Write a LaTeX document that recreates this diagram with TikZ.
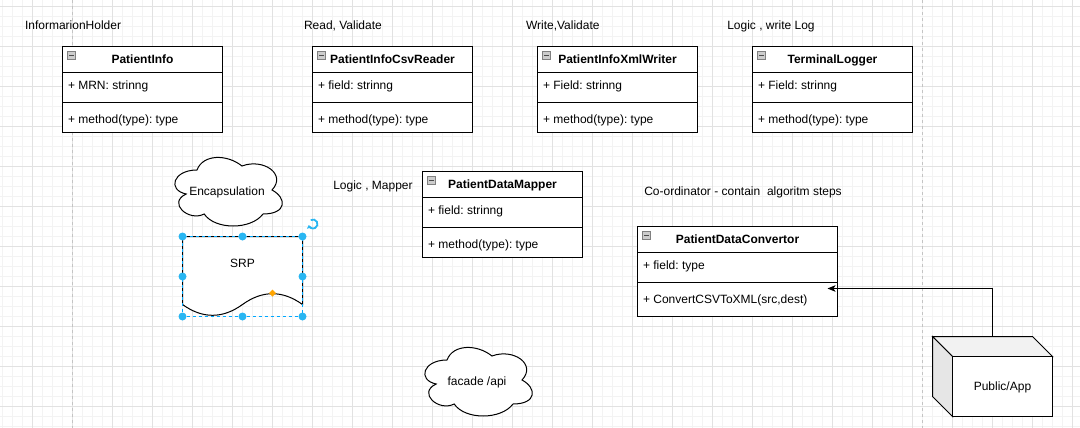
\documentclass[tikz,border=0pt]{standalone}
\usepackage{fontspec}
\setmainfont{Liberation Sans}
\usetikzlibrary{arrows.meta}
\frenchspacing
\definecolor{gmajor}{HTML}{E2E2E2}
\definecolor{gminor}{HTML}{F3F3F3}
\definecolor{pbreak}{HTML}{C4C4C4}
\definecolor{hblue}{HTML}{29B6F2}
\definecolor{selblue}{HTML}{00A8FF}
\definecolor{horange}{HTML}{FFA500}
\definecolor{topface}{HTML}{F2F2F2}
\definecolor{sideface}{HTML}{E6E6E6}
\definecolor{iconfill}{HTML}{CDCDCD}
\definecolor{icondraw}{HTML}{808080}
\tikzset{
  minorgrid/.style={draw=gminor, line width=1pt},
  majorgrid/.style={draw=gmajor, line width=1pt},
  pagebreak/.style={draw=pbreak, line width=1pt, dash pattern=on 3pt off 3pt},
  shapeline/.style={draw=black, line width=1pt, fill=white},
  boundbox/.style={rectangle, inner sep=0pt, outer sep=0pt, anchor=north west},
  classbox/.style={boundbox, draw=black, line width=1pt, fill=white},
  sepline/.style={draw=black, line width=1pt},
  icon/.style={draw=icondraw, fill=iconfill, line width=0.8pt},
  iconminus/.style={draw=black!70, line width=1pt},
  txt/.style={inner sep=0pt, outer sep=0pt, font=\fontsize{12}{14}\selectfont\frenchspacing},
  ttl/.style={inner sep=0pt, outer sep=0pt, font=\fontsize{12}{14}\selectfont\bfseries\frenchspacing},
  selection/.style={draw=selblue, line width=1pt, dash pattern=on 3pt off 3pt},
  handle/.style={fill=hblue},
  edge/.style={draw=black, line width=1pt, -{Stealth[length=8pt,width=6.5pt,inset=2pt]}},
}
\newcommand{\umlclass}[8]{%
  \node[classbox, minimum width=#4pt, minimum height=#5pt] (#1) at (#2,#3) {};
  \draw[sepline] ([yshift=-26pt]#1.north west) -- ([yshift=-26pt]#1.north east);
  \draw[sepline] ([yshift=-56pt]#1.north west) -- ([yshift=-56pt]#1.north east);
  \filldraw[icon] ([xshift=5pt,yshift=-5pt]#1.north west) rectangle ++(8pt,-8pt);
  \draw[iconminus] ([xshift=6.5pt,yshift=-9pt]#1.north west) -- ++(5pt,0pt);
  \node[ttl, anchor=base] (#1-title) at ([yshift=-17.3pt]#1.north) {#6};
  \node[txt, anchor=base west] (#1-field) at ([xshift=5.5pt,yshift=-43.3pt]#1.north west) {#7};
  \node[txt, anchor=base west] (#1-method) at ([xshift=5.5pt,yshift=-76.8pt]#1.north west) {#8};
}
\newcommand{\drawcloud}[2]{%
  \begin{scope}[shift={(#1,#2)}]
    \draw[shapeline] (30,20) .. controls (6,20) and (0,40) .. (19.2,44)
      .. controls (0,52.8) and (21.6,72) .. (37.2,64)
      .. controls (48,80) and (84,80) .. (96,64)
      .. controls (120,64) and (120,48) .. (105,40)
      .. controls (120,24) and (96,8) .. (75,16)
      .. controls (60,4) and (36,4) .. (30,20) -- cycle;
  \end{scope}
}
\begin{document}
\begin{tikzpicture}[x=1pt,y=-1pt]
\useasboundingbox (0,0) rectangle (1080,428);
\fill[white] (0,0) rectangle (1080,428);
% grid
\foreach \x in {2.5,12.5,...,1080} \draw[minorgrid] (\x,0) -- (\x,428);
\foreach \y in {6.5,16.5,...,428} \draw[minorgrid] (0,\y) -- (1080,\y);
\foreach \x in {32.5,72.5,...,1080} \draw[majorgrid] (\x,0) -- (\x,428);
\foreach \y in {6.5,46.5,...,428} \draw[majorgrid] (0,\y) -- (1080,\y);
\draw[pagebreak] (72.5,0) -- (72.5,428);
\draw[pagebreak] (922.5,0) -- (922.5,428);

% labels
\node[txt, anchor=base west] (lblholder) at (25,29.3) {InformarionHolder};
\node[txt, anchor=base west] (lblread) at (304,29.3) {Read, Validate};
\node[txt, anchor=base west] (lblwrite) at (526,29.3) {Write,Validate};
\node[txt, anchor=base west] (lbllog) at (727.3,29.3) {Logic , write Log};
\node[txt, anchor=base west] (lblmapper) at (333.3,189.3) {Logic , Mapper};
\node[txt, anchor=base west] (lblcoord) at (644.3,195) {Co-ordinator - contain\ \ algoritm steps};

% classes
\umlclass{info}{62.5}{46.5}{160}{86}{PatientInfo}{+ MRN: strinng}{+ method(type): type}
\umlclass{reader}{312.5}{46.5}{160}{86}{PatientInfoCsvReader}{+ field: strinng}{+ method(type): type}
\umlclass{writer}{537.5}{46.5}{160}{86}{PatientInfoXmlWriter}{+ Field: strinng}{+ method(type): type}
\umlclass{logger}{752.5}{46.5}{160}{86}{TerminalLogger}{+ Field: strinng}{+ method(type): type}
\umlclass{mapper}{422.5}{171.5}{160}{86}{PatientDataMapper}{+ field: strinng}{+ method(type): type}
\umlclass{conv}{637.5}{226.5}{200}{90}{PatientDataConvertor}{+ field: type}{+ ConvertCSVToXML(src,dest)}

% clouds
\node[boundbox, minimum width=120pt, minimum height=80pt] (enc) at (167,150) {};
\drawcloud{167}{150}
\node[txt, anchor=base] (enctext) at (227,195) {Encapsulation};
\node[boundbox, minimum width=120pt, minimum height=80pt] (facade) at (417,340) {};
\drawcloud{417}{340}
\node[txt, anchor=base] (facadetext) at (477,385) {facade /api};

% SRP document shape (selected)
\node[boundbox, minimum width=120pt, minimum height=80pt] (srp) at (182.5,236.5) {};
\begin{scope}[shift={(182.5,236.5)}]
  \draw[shapeline] (0,0) -- (120,0) -- (120,68)
    .. controls (100,53.6) and (80,53.6) .. (60,68)
    .. controls (40,82.4) and (20,82.4) .. (0,68) -- cycle;
\end{scope}
\node[txt, anchor=base] (srptext) at (242.5,267.3) {SRP};
\draw[selection] (srp.north west) rectangle (srp.south east);
\foreach \a in {north west,north,north east,west,east,south west,south,south east}
  \fill[handle] (srp.\a) circle[radius=4pt];
\fill[horange] (272.5,293.2) ++(0pt,3.5pt) -- ++(3.5pt,-3.5pt) -- ++(-3.5pt,-3.5pt) -- ++(-3.5pt,3.5pt) -- cycle;
\draw[hblue, line width=1.8pt, -{Triangle[length=3pt,width=5pt]}]
  ([shift={(120:4.5pt)}]313,224) arc[start angle=120, end angle=-165, radius=4.5pt];

% cube
\node[boundbox, minimum width=120pt, minimum height=80pt] (app) at (932.5,336.5) {};
\filldraw[draw=black, line width=1pt, fill=topface] (app.north west) -- ([xshift=-20pt]app.north east)
  -- ([yshift=-20pt]app.north east) -- ([xshift=20pt,yshift=-20pt]app.north west) -- cycle;
\filldraw[draw=black, line width=1pt, fill=sideface] (app.north west) -- ([xshift=20pt,yshift=-20pt]app.north west)
  -- ([xshift=20pt]app.south west) -- ([yshift=20pt]app.south west) -- cycle;
\filldraw[draw=black, line width=1pt, fill=white] ([xshift=20pt,yshift=-20pt]app.north west) rectangle (app.south east);
\node[txt, anchor=base] (apptext) at (1002.5,390) {Public/App};

% connector
\coordinate (convin) at (827.5,288.5);
\draw[edge] (app.north) |- (convin);
\end{tikzpicture}
\end{document}
